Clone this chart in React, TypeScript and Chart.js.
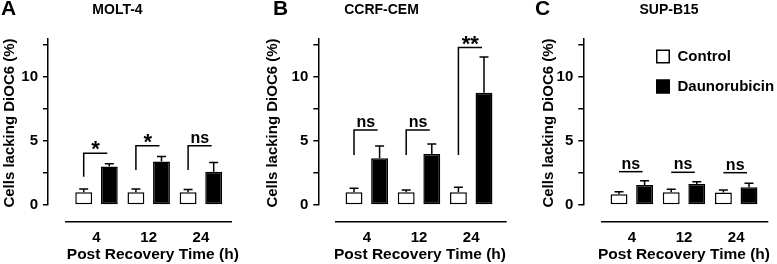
import React, { useEffect, useRef } from 'react';
import { Chart, registerables } from 'chart.js';

Chart.register(...registerables);

const FONT = '"Liberation Sans", Arial, Helvetica, sans-serif';

// ---------- data ----------
const categories = ['4', '12', '24'];
const seriesNames = ['Control', 'Daunorubicin'];
const yTickValues = [0, 2.5, 5, 7.5, 10, 12.5];
const yLabeledTicks = [0, 5, 10];
const yMax = 13;
const xAxisTitle = 'Post Recovery Time (h)';
const yAxisTitle = 'Cells lacking DiOC6 (%)';

// MOLT-4
const molt4Control = [1.0, 1.0, 1.0];
const molt4ControlErr = [0.25, 0.25, 0.2];
const molt4Dauno = [3.0, 3.4, 2.6];
const molt4DaunoErr = [0.22, 0.38, 0.72];
const molt4BracketTop = [4.03, 4.62, 4.62];
const molt4BracketLeg = [2.2, 2.73, 2.73];
const molt4Sig = ['*', '*', 'ns'];

// CCRF-CEM
const ccrfControl = [1.0, 1.0, 1.0];
const ccrfControlErr = [0.3, 0.17, 0.38];
const ccrfDauno = [3.65, 3.97, 8.75];
const ccrfDaunoErr = [0.95, 0.78, 2.8];
const ccrfBracketTop = [5.84, 5.84, 12.28];
const ccrfBracketLeg = [3.9, 3.9, 3.9];
const ccrfSig = ['ns', 'ns', '**'];

// SUP-B15
const supControl = [0.83, 1.0, 0.97];
const supControlErr = [0.2, 0.22, 0.2];
const supDauno = [1.56, 1.64, 1.38];
const supDaunoErr = [0.33, 0.18, 0.31];
const supBracketTop = [2.6, 2.55, 2.52];
const supBracketLeg: (number | null)[] = [null, null, null];
const supSig = ['ns', 'ns', 'ns'];

// ---------- layout (pixels) ----------
const CANVAS_H = 264;
const PLOT_TOP = 38.3;
const ZERO_Y = 205;
const XLINE_Y = 221.7;
const GROUP_OFFSET = 48.5;
const GROUP_SPACING = 52.2;

type PanelCfg = {
  letter: string;
  title: string;
  control: number[];
  controlErr: number[];
  dauno: number[];
  daunoErr: number[];
  bracketTop: number[];
  bracketLeg: (number | null)[];
  sig: string[];
  legend: boolean;
  canvasLeft: number;
  canvasWidth: number;
  axisX: number;
  plotRight: number;
  xLineStart: number;
  letterX: number;
  titleX: number;
  yTitleX: number;
  xTitleX: number;
};

const panels: PanelCfg[] = [
  {
    letter: 'A', title: 'MOLT-4',
    control: molt4Control, controlErr: molt4ControlErr, dauno: molt4Dauno, daunoErr: molt4DaunoErr,
    bracketTop: molt4BracketTop, bracketLeg: molt4BracketLeg, sig: molt4Sig, legend: false,
    canvasLeft: 0, canvasWidth: 260, axisX: 48, plotRight: 232, xLineStart: 65,
    letterX: 1, titleX: 117.5, yTitleX: 10, xTitleX: 152.8,
  },
  {
    letter: 'B', title: 'CCRF-CEM',
    control: ccrfControl, controlErr: ccrfControlErr, dauno: ccrfDauno, daunoErr: ccrfDaunoErr,
    bracketTop: ccrfBracketTop, bracketLeg: ccrfBracketLeg, sig: ccrfSig, legend: false,
    canvasLeft: 260, canvasWidth: 260, axisX: 318.3, plotRight: 506.7, xLineStart: 335,
    letterX: 273, titleX: 381.5, yTitleX: 272.5, xTitleX: 420,
  },
  {
    letter: 'C', title: 'SUP-B15',
    control: supControl, controlErr: supControlErr, dauno: supDauno, daunoErr: supDaunoErr,
    bracketTop: supBracketTop, bracketLeg: supBracketLeg, sig: supSig, legend: true,
    canvasLeft: 520, canvasWidth: 257, axisX: 583.3, plotRight: 768.3, xLineStart: 601,
    letterX: 535, titleX: 669, yTitleX: 549, xTitleX: 684,
  },
];

const decorPlugin = {
  id: 'panelDecor',
  afterDraw(chart: any, _args: any, opts: any) {
    const p: PanelCfg = opts.panel;
    if (!p) return;
    const ctx: CanvasRenderingContext2D = chart.ctx;
    const L = p.canvasLeft;
    const ys = chart.scales.y;
    ctx.save();
    ctx.strokeStyle = '#000';
    ctx.fillStyle = '#000';
    ctx.lineWidth = 1.5;
    ctx.lineCap = 'butt';

    // offset x axis line
    ctx.beginPath();
    ctx.moveTo(p.xLineStart - L, XLINE_Y);
    ctx.lineTo(chart.chartArea.right, XLINE_Y);
    ctx.stroke();

    // error bars (upper)
    chart.data.datasets.forEach((ds: any, di: number) => {
      const meta = chart.getDatasetMeta(di);
      meta.data.forEach((bar: any, i: number) => {
        const v = ds.data[i].y + ds.errors[i];
        const yTop = ys.getPixelForValue(v);
        ctx.beginPath();
        ctx.moveTo(bar.x, bar.y);
        ctx.lineTo(bar.x, yTop);
        ctx.moveTo(bar.x - 4.5, yTop);
        ctx.lineTo(bar.x + 4.5, yTop);
        ctx.stroke();
      });
    });

    // significance brackets
    const m0 = chart.getDatasetMeta(0);
    const m1 = chart.getDatasetMeta(1);
    p.sig.forEach((label, i) => {
      const x0 = m0.data[i].x;
      const x1 = m1.data[i].x - 2;
      const yh = ys.getPixelForValue(p.bracketTop[i]);
      ctx.beginPath();
      const leg = p.bracketLeg[i];
      if (leg !== null && leg !== undefined) {
        ctx.moveTo(x0, ys.getPixelForValue(leg));
        ctx.lineTo(x0, yh);
      } else {
        ctx.moveTo(x0, yh);
      }
      ctx.lineTo(x1, yh);
      ctx.stroke();
      const isStar = label.indexOf('*') >= 0;
      ctx.font = `bold ${isStar ? 22 : 16}px ${FONT}`;
      ctx.textAlign = 'center';
      ctx.textBaseline = 'alphabetic';
      const m = ctx.measureText(label);
      ctx.fillText(label, (x0 + x1) / 2, yh - 3 - m.actualBoundingBoxDescent);
    });

    // panel letter
    ctx.textBaseline = 'middle';
    ctx.textAlign = 'left';
    ctx.font = `bold 21px ${FONT}`;
    ctx.fillText(p.letter, p.letterX - L, 9);

    // panel title
    ctx.textAlign = 'center';
    ctx.font = `bold 14px ${FONT}`;
    ctx.fillText(p.title, p.titleX - L, 10.5);

    // x axis title
    ctx.font = `bold 15.5px ${FONT}`;
    ctx.fillText(xAxisTitle, p.xTitleX - L, 255);

    // y axis title
    ctx.save();
    ctx.translate(p.yTitleX - L, 123);
    ctx.rotate(-Math.PI / 2);
    ctx.font = `bold 15px ${FONT}`;
    ctx.fillText(yAxisTitle, 0, 0);
    ctx.restore();

    // legend
    if (p.legend) {
      const boxX = 656 - L;
      const rows = [56.5, 86.5];
      chart.data.datasets.forEach((ds: any, di: number) => {
        const cy = rows[di];
        ctx.fillStyle = ds.backgroundColor;
        ctx.fillRect(boxX, cy - 7, 14, 14);
        ctx.strokeStyle = '#000';
        ctx.lineWidth = 1.5;
        ctx.strokeRect(boxX + 0.75, cy - 6.25, 12.5, 12.5);
        ctx.fillStyle = '#000';
        ctx.textAlign = 'left';
        ctx.textBaseline = 'middle';
        ctx.font = `bold 15px ${FONT}`;
        ctx.fillText(ds.label, 677.5 - L, cy);
      });
    }
    ctx.restore();
  },
};

function Panel({ cfg }: { cfg: PanelCfg }) {
  const ref = useRef<HTMLCanvasElement>(null);
  useEffect(() => {
    if (!ref.current) return;
    const yScaleWidth = cfg.axisX - cfg.canvasLeft;
    const rightPad = cfg.canvasWidth - (cfg.plotRight - cfg.canvasLeft);
    const tickFont = { family: FONT, size: 15, weight: 'bold' as const };
    const chart = new Chart(ref.current, {
      type: 'bar',
      data: {
        datasets: [
          {
            label: seriesNames[0],
            data: cfg.control.map((y, i) => ({ x: i, y })),
            errors: cfg.controlErr,
            backgroundColor: '#fff',
            borderColor: '#000',
            borderWidth: 1.5,
            borderSkipped: false,
          } as any,
          {
            label: seriesNames[1],
            data: cfg.dauno.map((y, i) => ({ x: i, y })),
            errors: cfg.daunoErr,
            backgroundColor: '#000',
            borderColor: '#000',
            borderWidth: 1.5,
            borderSkipped: false,
          } as any,
        ],
      },
      options: {
        responsive: false,
        animation: false,
        devicePixelRatio: 1,
        events: [],
        categoryPercentage: 0.98,
        barPercentage: 0.66,
        layout: { padding: { left: 0, right: rightPad, top: PLOT_TOP, bottom: 0 } },
        plugins: {
          legend: { display: false },
          tooltip: { enabled: false },
          title: { display: false },
          panelDecor: { panel: cfg },
        } as any,
        scales: {
          x: {
            type: 'linear',
            offset: false,
            min: -GROUP_OFFSET / GROUP_SPACING,
            max: (cfg.plotRight - cfg.axisX - GROUP_OFFSET) / GROUP_SPACING,
            afterFit: (s: any) => { s.height = CANVAS_H - ZERO_Y; },
            afterBuildTicks: (s: any) => { s.ticks = categories.map((_, i) => ({ value: i })); },
            grid: { display: false, drawTicks: false },
            border: { display: false },
            ticks: {
              padding: 24,
              color: '#000',
              font: tickFont,
              maxRotation: 0,
              autoSkip: false,
              callback: (v: any) => categories[v] ?? '',
            },
          },
          y: {
            min: 0,
            max: yMax,
            afterFit: (s: any) => { s.width = yScaleWidth; },
            afterBuildTicks: (s: any) => { s.ticks = yTickValues.map((v) => ({ value: v })); },
            grid: { drawOnChartArea: false, drawTicks: true, tickLength: 5, color: '#000', lineWidth: 1.5 },
            border: { display: true, color: '#000', width: 1.5 },
            ticks: {
              padding: 5,
              color: '#000',
              font: tickFont,
              callback: (v: any) => (yLabeledTicks.includes(Number(v)) ? String(v) : ''),
            },
          },
        } as any,
      },
      plugins: [decorPlugin],
    } as any);
    return () => chart.destroy();
  }, [cfg]);
  return (
    <canvas
      ref={ref}
      width={cfg.canvasWidth}
      height={CANVAS_H}
      style={{ position: 'absolute', left: cfg.canvasLeft, top: 0, width: cfg.canvasWidth, height: CANVAS_H }}
    />
  );
}

export default function App() {
  return (
    <div style={{ position: 'fixed', left: 0, top: 0, width: 777, height: 264, background: '#fff', overflow: 'hidden' }}>
      {panels.map((p) => (
        <Panel key={p.letter} cfg={p} />
      ))}
    </div>
  );
}
